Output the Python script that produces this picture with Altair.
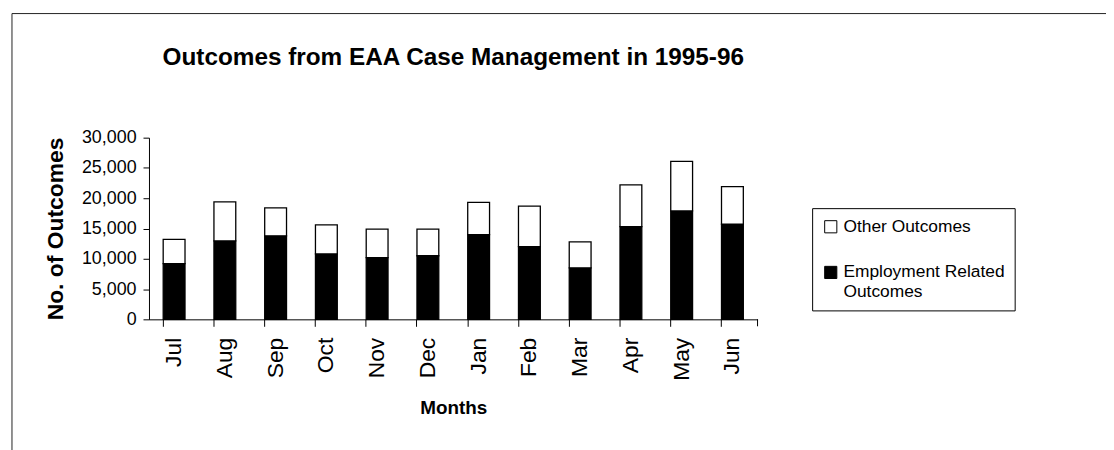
import altair as alt
import pandas as pd

months = ["Jul", "Aug", "Sep", "Oct", "Nov", "Dec", "Jan", "Feb", "Mar", "Apr", "May", "Jun"]
employment = [9200, 12950, 13800, 10800, 10200, 10500, 14000, 12000, 8500, 15300, 17900, 15700]
totals = [13200, 19400, 18400, 15600, 14900, 14900, 19300, 18700, 12800, 22200, 26100, 21900]
other = [t - e for t, e in zip(totals, employment)]
series = ["Other Outcomes", "Employment Related Outcomes"]
y_ticks = [0, 5000, 10000, 15000, 20000, 25000, 30000]

rows = []
for m, e, o in zip(months, employment, other):
    rows.append({"month": m, "series": series[1], "value": e, "ord": 0})
    rows.append({"month": m, "series": series[0], "value": o, "ord": 1})
df = pd.DataFrame(rows)

W, H = 613, 183
FONT = "Liberation Sans"

bars = alt.Chart(df).mark_bar(stroke="black", strokeWidth=1.3).encode(
    x=alt.X("month:N", sort=months, title="Months",
            scale=alt.Scale(paddingInner=0.57, paddingOuter=0.28),
            axis=alt.Axis(labelAngle=-90, bandPosition=0, tickSize=7, labelPadding=11,
                          labelFontSize=23, titleFontSize=19, titleFontWeight="bold",
                          titlePadding=18, domainColor="black", tickColor="black",
                          labelColor="black", titleColor="black", labelFont=FONT, titleFont=FONT)),
    y=alt.Y("value:Q", stack="zero", title="No. of Outcomes",
            scale=alt.Scale(domain=[0, 30000], nice=False),
            axis=alt.Axis(values=y_ticks, format=",.0f",
                          grid=False, tickSize=6, labelPadding=7, labelFontSize=18,
                          titleFontSize=23, titleFontWeight="bold", titlePadding=14,
                          domainColor="black", tickColor="black", labelColor="black",
                          titleColor="black", labelFont=FONT, titleFont=FONT)),
    color=alt.Color("series:N", scale=alt.Scale(domain=series, range=["white", "black"]),
                    legend=alt.Legend(title=None, orient="none", legendX=668, legendY=71,
                                      padding=10, strokeColor="black", fillColor="white",
                                      symbolType="square", symbolSize=150,
                                      symbolStrokeColor="black", symbolStrokeWidth=1,
                                      labelFontSize=17.5, labelFont=FONT, labelColor="black",
                                      labelLimit=300, rowPadding=27, labelOffset=4,
                                      labelExpr="datum.label == 'Employment Related Outcomes' ? ['Employment Related', 'Outcomes'] : datum.label")),
    order=alt.Order("ord:Q", sort="ascending"),
)

frame_data = alt.Data(values=[{"a": 1}])
frame_top = alt.Chart(frame_data).mark_rule(color="#222", strokeWidth=1).encode(
    x=alt.value(-138), x2=alt.value(1000), y=alt.value(-125))
frame_left = alt.Chart(frame_data).mark_rule(color="#222", strokeWidth=1).encode(
    x=alt.value(-138), y=alt.value(-125), y2=alt.value(400))
end_tick = alt.Chart(frame_data).mark_rule(color="black", strokeWidth=1).encode(
    x=alt.value(W), y=alt.value(H), y2=alt.value(H + 7))

chart = alt.layer(frame_top, frame_left, bars, end_tick).properties(
    width=W, height=H,
    title=alt.Title("Outcomes from EAA Case Management in 1995-96", fontSize=24.5,
                    font=FONT, fontWeight="bold", color="black", offset=-58, anchor="middle"),
    autosize=alt.AutoSizeParams(type="none"),
    padding={"left": 142, "top": 129, "right": 351, "bottom": 130},
).configure(font=FONT).configure_view(stroke=None)

chart.save("out.html", embed_options={"renderer": "svg", "actions": False})
